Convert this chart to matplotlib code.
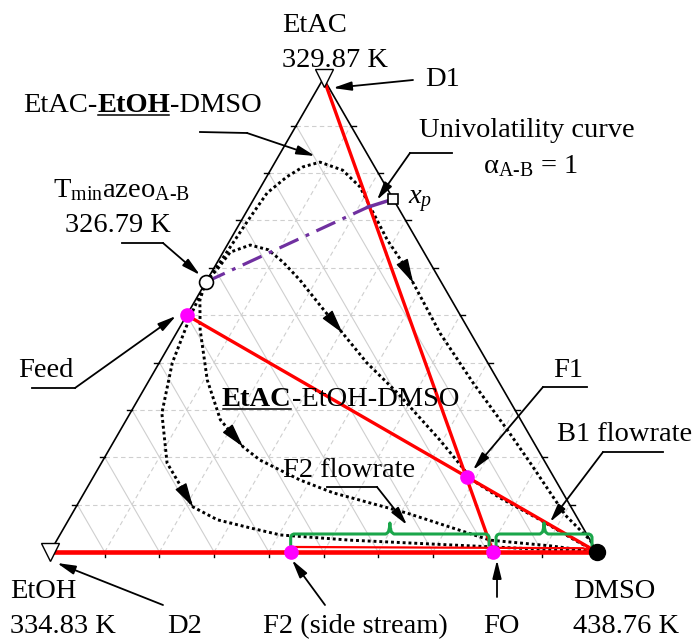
import numpy as np
import matplotlib
matplotlib.use("Agg")
import matplotlib.pyplot as plt

plt.rcParams["font.family"] = "Liberation Serif"
plt.rcParams["mathtext.fontset"] = "custom"
plt.rcParams["mathtext.rm"] = "Liberation Serif"
plt.rcParams["mathtext.it"] = "Liberation Serif:italic"
plt.rcParams["mathtext.bf"] = "Liberation Serif:bold"

FS = 20.5
SQ3 = np.sqrt(3.0)
SCALE = 547.0  # pixels per unit side

# compositions as (x_EtAC, x_DMSO), x_EtOH = 1 - both
azeo = (0.57, 0.0)
feed = (0.50, 0.0)
f1 = (0.158, 0.683)
fo = (0.0, 0.81)
f2 = (0.0, 0.44)
dmso = (0.0, 1.0)
etac = (1.0, 0.0)
etoh = (0.0, 0.0)
xp = (0.745, 0.255)
univ_split = (0.728, 0.217)

# residue curves (EtAC, DMSO)
curve_a_etac = [0.570, 0.610, 0.700, 0.758, 0.792, 0.813, 0.823, 0.806, 0.771, 0.716,
                0.659, 0.610, 0.568, 0.462, 0.357, 0.258, 0.188, 0.078, 0.025, 0.0]
curve_a_dmso = [0.000, 0.005, 0.012, 0.018, 0.037, 0.056, 0.082, 0.132, 0.181, 0.233,
                0.287, 0.340, 0.380, 0.482, 0.595, 0.707, 0.784, 0.903, 0.975, 1.0]
curve_b_etac = [0.570, 0.600, 0.633, 0.648, 0.638, 0.612, 0.574, 0.521, 0.462, 0.399,
                0.336, 0.236, 0.184, 0.152, 0.114, 0.068, 0.025, 0.0]
curve_b_dmso = [0.000, 0.008, 0.013, 0.042, 0.080, 0.120, 0.170, 0.233, 0.304, 0.380,
                0.467, 0.595, 0.658, 0.696, 0.766, 0.862, 0.947, 1.0]
curve_c_etac = [0.570, 0.532, 0.469, 0.363, 0.279, 0.222, 0.194, 0.152, 0.125, 0.082,
                0.025, 0.013, 0.0]
curve_c_dmso = [0.000, 0.008, 0.040, 0.106, 0.172, 0.242, 0.287, 0.381, 0.455, 0.612,
                0.792, 0.908, 1.0]
curve_d_etac = [0.570, 0.496, 0.399, 0.293, 0.188, 0.095, 0.068, 0.051, 0.036, 0.025,
                0.011, 0.0]
curve_d_dmso = [0.000, 0.008, 0.024, 0.058, 0.120, 0.214, 0.272, 0.340, 0.403, 0.536,
                0.799, 1.0]
curves = [(curve_a_etac, curve_a_dmso, 12), (curve_b_etac, curve_b_dmso, 8),
          (curve_c_etac, curve_c_dmso, 5), (curve_d_etac, curve_d_dmso, 5)]

# upper red line along the base (F2 -> DMSO)
side_etac = [0.0106, 0.008, 0.0]
side_dmso = [0.44, 0.97, 1.0]

grid_steps = np.arange(1, 10) / 10.0


def tern(a, c):
    a = np.asarray(a, dtype=float)
    c = np.asarray(c, dtype=float)
    return c + a / 2.0, a * SQ3 / 2.0


def P(x, y):
    # pixel position of the reference image -> data coords (layout only)
    return ((x - 50) / SCALE, (552 - y) / SCALE)


fig = plt.figure(figsize=(6.97, 6.39), dpi=100)
ax = fig.add_axes([0, 0, 1, 1])
ax.set_xlim(P(0, 0)[0], P(697, 0)[0])
ax.set_ylim(P(0, 639)[1], P(0, 0)[1])
ax.axis("off")

# grid
gcol = "#cfcfcf"
for t in grid_steps:
    ax.plot(*tern([t, t], [0, 1 - t]), color=gcol, lw=0.8, ls=(0, (4, 3)), zorder=1)
    ax.plot(*tern([0, 1 - t], [t, t]), color=gcol, lw=0.8, ls=(0, (4, 3)), zorder=1)
    ax.plot(*tern([0, 1 - t], [1 - t, 0]), color=gcol, lw=0.8, zorder=1)

# triangle and ticks
ax.plot(*tern([0, 1, 0, 0], [0, 0, 1, 0]), color="k", lw=1.2, zorder=2)
tk = 5 / SCALE
for t in grid_steps:
    x, y = tern(0, t)
    ax.plot([x, x], [y, y - tk], color="k", lw=1.0, zorder=2)
    x, y = tern(t, 0)
    ax.plot([x, x - tk], [y, y], color="k", lw=1.0, zorder=2)
    x, y = tern(t, 1 - t)
    ax.plot([x, x + tk], [y, y], color="k", lw=1.0, zorder=2)

# residue curves with arrow heads
for ca, cd, ia in curves:
    xs, ys = tern(ca, cd)
    ax.plot(xs, ys, color="k", lw=2.1, ls=(0, (1, 1.0)), zorder=3)
    d = np.array([xs[ia] - xs[ia - 1], ys[ia] - ys[ia - 1]])
    d = d / np.hypot(*d)
    tip = np.array([xs[ia], ys[ia]])
    ax.annotate("", xy=tip, xytext=tip - d * 0.002,
                arrowprops=dict(arrowstyle="-|>,head_length=1.5,head_width=0.4",
                                color="k", lw=1.0, shrinkA=0, shrinkB=0), zorder=4)

# red mass-balance lines
red = "#ff0000"
ax.plot(*tern([etoh[0], dmso[0]], [etoh[1], dmso[1]]), color=red, lw=3.3, zorder=5,
        solid_capstyle="butt")
ax.plot(*tern(side_etac, side_dmso), color=red, lw=1.6, zorder=5)
ax.plot(*tern([etac[0], fo[0]], [etac[1], fo[1]]), color=red, lw=2.4, zorder=5)
ax.plot(*tern([feed[0], dmso[0]], [feed[1], dmso[1]]), color=red, lw=2.4, zorder=5)

# univolatility line
purple = "#7030a0"
ax.plot(*tern([azeo[0], univ_split[0]], [azeo[1], univ_split[1]]), color=purple, lw=2.3,
        ls=(0, (6.5, 2.5, 1.2, 2.5)), zorder=5)
ax.plot(*tern([univ_split[0], xp[0]], [univ_split[1], xp[1]]), color=purple, lw=2.5, zorder=5)

# braces for flowrates
green = "#1aa64a"


def brace(c0, c1, g0, g1):
    x0 = tern(0, c0)[0] + g0 / SCALE
    x1 = tern(0, c1)[0] - g1 / SCALE
    xm = (x0 + x1) / 2
    u = 1 / SCALE
    bx = [x0, x0, x0 + u, x0 + 3 * u, xm - 4 * u, xm - 1.5 * u, xm - 0.5 * u, xm,
          xm + 0.5 * u, xm + 1.5 * u, xm + 4 * u, x1 - 3 * u, x1 - u, x1, x1]
    by = np.array([7, 15, 17, 18, 18, 20, 24, 29, 24, 20, 18, 18, 17, 15, 7]) * u
    ax.plot(bx, by, color=green, lw=2.2, zorder=6, solid_joinstyle="round")


brace(f2[1], fo[1], 0, 4)
brace(fo[1], dmso[1], 3, 5)

# markers
ms_kw = dict(zorder=8, linestyle="none")
for pt in (etac, etoh):
    ax.plot(*tern(pt[0], pt[1]), marker="v", ms=13, mfc="white", mec="k", mew=1.0, **ms_kw)
ax.plot(*tern(*azeo), marker="o", ms=10, mfc="white", mec="k", mew=1.2, **ms_kw)
for pt in (feed, f1, fo, f2):
    ax.plot(*tern(*pt), marker="o", ms=9.5, mfc="#ff00ff", mec="#ff00ff", **ms_kw)
ax.plot(*tern(*dmso), marker="o", ms=11.5, mfc="k", mec="k", **ms_kw)
ax.plot(*tern(*xp), marker="s", ms=7.5, mfc="white", mec="k", mew=1.2, **ms_kw)


# labels
def label(x, y, s, **kw):
    return ax.text(*P(x, y), s, fontsize=FS, ha="left", va="baseline", zorder=9, **kw)


def callout(pts):
    for p, q in zip(pts[:-2], pts[1:-1]):
        ax.plot([P(*p)[0], P(*q)[0]], [P(*p)[1], P(*q)[1]], color="k", lw=1.3, zorder=9)
    ax.annotate("", xy=P(*pts[-1]), xytext=P(*pts[-2]),
                arrowprops=dict(arrowstyle="-|>,head_length=1.1,head_width=0.27",
                                color="k", lw=1.3, shrinkA=0, shrinkB=0), zorder=9)


label(282, 32, "EtAC")
label(282, 67, "329.87 K")
label(425, 86, "D1")
callout([(413, 80), (333, 88)])

label(419, 137, "Univolatility curve")
label(483, 173, r"α$_{\mathrm{A\text{-}B}}$ = 1")
callout([(452, 153), (410, 153), (377, 200)])
label(408, 204, r"$x_p$")

label(53, 197, r"T$_{\mathrm{min}}$azeo$_{\mathrm{A\text{-}B}}$")
label(65, 232, "326.79 K")
callout([(122, 243), (163, 243), (200, 275)])

label(18, 377, "Feed")
callout([(32, 388), (75, 388), (176, 316)])

label(553, 377, "F1")
callout([(587, 387), (543, 387), (473, 470)])

label(557, 441, "B1 flowrate")
callout([(663, 452), (603, 452), (550, 522)])

label(283, 477, "F2 flowrate")
callout([(327, 487), (377, 487), (407, 525)])

label(10, 598, "EtOH")
label(10, 633, "334.83 K")
label(167, 633, "D2")
callout([(163, 605), (57, 563)])
label(263, 633, "F2 (side stream)")
callout([(325, 605), (292, 560)])
label(483, 633, "FO")
callout([(497, 597), (497, 560)])
label(573, 598, "DMSO")
label(573, 633, "438.76 K")


def rich(x, y, parts):
    arts = []
    prev = label(x, y, parts[0][0], fontweight="bold" if parts[0][1] else "normal")
    arts.append((prev, parts[0][1]))
    for s, b in parts[1:]:
        prev = ax.annotate(s, xy=(1, 0), xycoords=prev, fontsize=FS, ha="left", va="bottom",
                           fontweight="bold" if b else "normal", zorder=9)
        arts.append((prev, b))
    return arts


rich_texts = rich(23, 112, [("EtAC-", False), ("EtOH", True), ("-DMSO", False)])
rich_texts += rich(222, 406, [("EtAC", True), ("-EtOH-DMSO", False)])
callout([(200, 132), (247, 133), (315, 156)])

fig.canvas.draw()
rend = fig.canvas.get_renderer()
inv = ax.transData.inverted()
for art, b in rich_texts:
    if b:
        bb = art.get_window_extent(rend)
        (x0, y0), (x1, _) = inv.transform([(bb.x0 + 1, bb.y0 + 3), (bb.x1 - 1, bb.y0 + 3)])
        ax.plot([x0, x1], [y0, y0], color="k", lw=1.1, zorder=9)

fig.savefig("out.png", dpi=100)
